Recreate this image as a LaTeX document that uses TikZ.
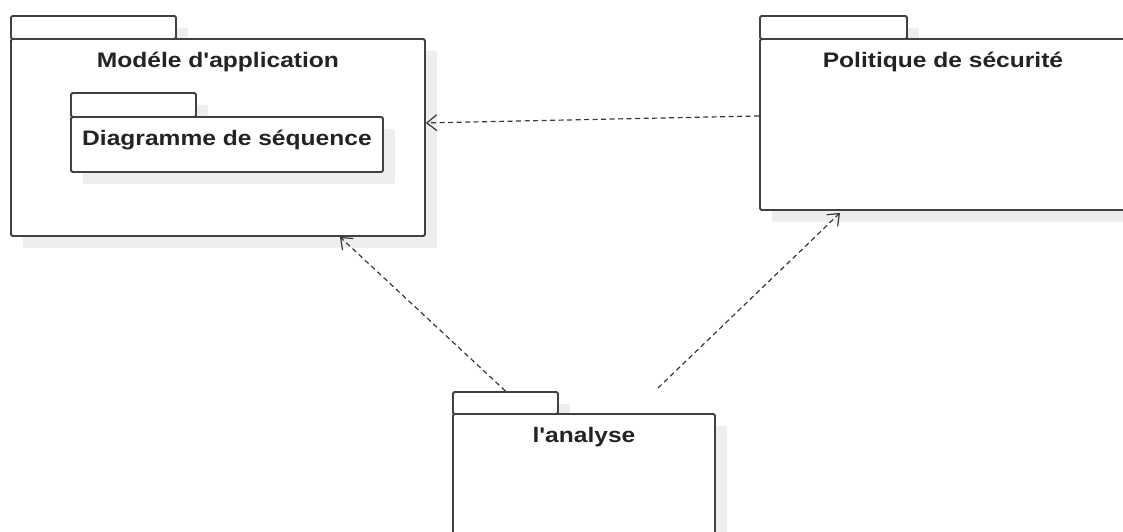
\documentclass[tikz,border=0pt]{standalone}
\usepackage{fontspec}
\setmainfont{Liberation Sans}[Ligatures=TeXOff]
\usepackage{graphicx}
\usetikzlibrary{arrows.meta,shadows}

\definecolor{pkgline}{RGB}{65,65,65}
\definecolor{pkgshade}{RGB}{238,238,238}
\definecolor{pkgtext}{RGB}{35,35,35}
\definecolor{depline}{RGB}{55,55,55}

% package names are set in a widened bold sans
\newcommand{\pkgname}[1]{\scalebox{1.17}[1]{\bfseries #1}}

\tikzset{
  pkgpart/.style={draw=pkgline, fill=white, line width=1.9pt, rounded corners=1.5pt,
    inner sep=0pt, anchor=north west,
    general shadow={fill=pkgshade, shadow xshift=12pt, shadow yshift=-12pt}},
  pkgtitle/.style={anchor=base, inner sep=0pt, text=pkgtext,
    font=\fontsize{21}{25}\selectfont},
  depends/.style={draw=depline, line width=1.2pt, dash pattern=on 5pt off 3.5pt,
    -{Straight Barb[length=10pt,width=16pt,line width=1.2pt]}},
}

\begin{document}
\begin{tikzpicture}[x=1pt,y=-1pt]
\useasboundingbox (0,0) rectangle (1123,531);

% Modéle d'application
\node[pkgpart, minimum width=165pt, minimum height=23pt] (modtab) at (10,15) {};
\node[pkgpart, minimum width=414pt, minimum height=197pt] (mod) at (10,38) {};
\node[pkgtitle] (modname) at ([yshift=-29pt]mod.north) {\pkgname{Modéle d'application}};

% nested package: Diagramme de séquence
\node[pkgpart, minimum width=125pt, minimum height=24pt] (seqtab) at (70,92) {};
\node[pkgpart, minimum width=312pt, minimum height=55pt] (seq) at (70,116) {};
\node[pkgtitle] (seqname) at ([yshift=-29pt]seq.north) {\pkgname{Diagramme de séquence}};

% Politique de sécurité
\node[pkgpart, minimum width=147pt, minimum height=23pt] (poltab) at (759,15) {};
\node[pkgpart, minimum width=400pt, minimum height=171pt] (pol) at (759,38) {};
\node[pkgtitle] (polname) at ([yshift=-29pt,xshift=-17pt]pol.north) {\pkgname{Politique de sécurité}};

% l'analyse
\node[pkgpart, minimum width=105pt, minimum height=22pt] (antab) at (452,391) {};
\node[pkgpart, minimum width=262pt, minimum height=140pt] (an) at (452,413) {};
\node[pkgtitle] (anname) at ([yshift=-29pt]an.north) {\pkgname{l'analyse}};

% dependencies
\coordinate (anfree) at (658,388);
\draw[depends] ([yshift=8.5pt]pol.west) -- ([yshift=14.5pt]mod.east);
\draw[depends] (antab.north) -- ([xshift=122pt]mod.south);
\draw[depends] (anfree) -- ([xshift=81pt,yshift=-2pt]pol.south west);
\end{tikzpicture}
\end{document}
